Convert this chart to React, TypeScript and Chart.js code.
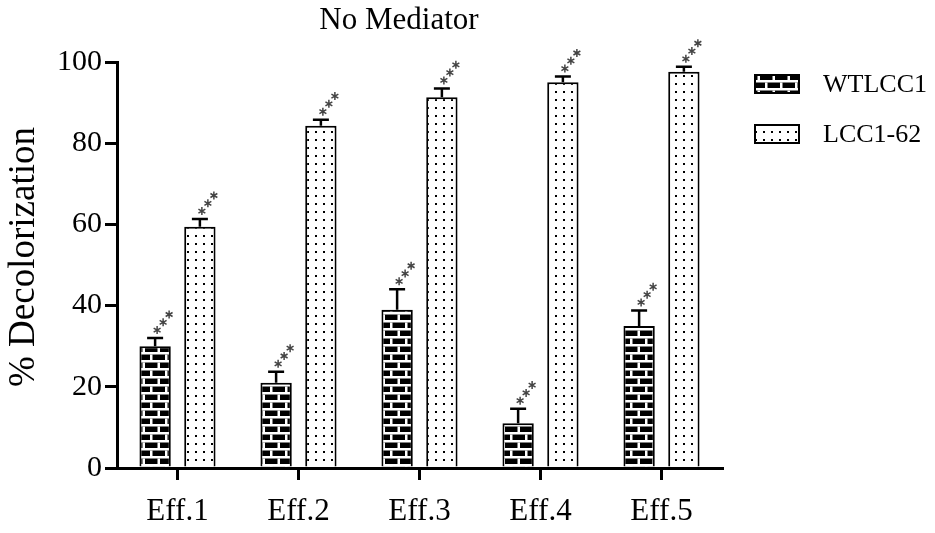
import React, { useEffect, useRef } from "react";
import { Chart, registerables } from "chart.js";

Chart.register(...registerables);

const categories = ["Eff.1", "Eff.2", "Eff.3", "Eff.4", "Eff.5"];
const wtValues = [30, 21, 39, 11, 35];
const wtErrors = [2, 2.7, 5, 3.6, 3.8];
const lccValues = [59.4, 84.3, 91.3, 95, 97.6];
const lccErrors = [1.9, 1.5, 2.2, 1.4, 1.2];
const seriesNames = ["WTLCC1", "LCC1-62"];
const yTicks = [0, 20, 40, 60, 80, 100];
const titleText = "No Mediator";
const yTitle = "% Decolorization";

const FONT = "'Liberation Serif', 'Times New Roman', serif";

function makeBrick(): CanvasPattern | string {
  const c = document.createElement("canvas");
  c.width = 15;
  c.height = 16;
  const g = c.getContext("2d");
  if (!g) return "#000";
  g.fillStyle = "#000";
  g.fillRect(0, 0, 15, 16);
  g.fillStyle = "#fff";
  g.fillRect(0, 0, 15, 2.5);
  g.fillRect(0, 8, 15, 2.5);
  g.fillRect(0, 2.5, 2.5, 5.5);
  g.fillRect(7.5, 10.5, 2.5, 5.5);
  const p = g.createPattern(c, "repeat");
  return p || "#000";
}

function makeDots(): CanvasPattern | string {
  const c = document.createElement("canvas");
  c.width = 8;
  c.height = 8;
  const g = c.getContext("2d");
  if (!g) return "#fff";
  g.fillStyle = "#fff";
  g.fillRect(0, 0, 8, 8);
  g.fillStyle = "#000";
  g.fillRect(3, 3, 2, 2);
  const p = g.createPattern(c, "repeat");
  return p || "#fff";
}

function drawAsterisk(ctx: CanvasRenderingContext2D, cx: number, cy: number) {
  const r = 4;
  ctx.save();
  ctx.strokeStyle = "#444";
  ctx.lineWidth = 1.5;
  ctx.beginPath();
  for (let k = 0; k < 3; k++) {
    const a = (Math.PI / 3) * k + Math.PI / 2;
    ctx.moveTo(cx - r * Math.cos(a), cy - r * Math.sin(a));
    ctx.lineTo(cx + r * Math.cos(a), cy + r * Math.sin(a));
  }
  ctx.stroke();
  ctx.restore();
}

export default function App() {
  const ref = useRef<HTMLCanvasElement | null>(null);

  useEffect(() => {
    if (!ref.current) return;
    const brick = makeBrick();
    const dots = makeDots();
    const errors = [wtErrors, lccErrors];
    const fills = [brick, dots];

    const overlay = {
      id: "overlay",
      afterDatasetsDraw(chart: any) {
        const ctx = chart.ctx as CanvasRenderingContext2D;
        const y = chart.scales.y;
        chart.data.datasets.forEach((ds: any, di: number) => {
          const meta = chart.getDatasetMeta(di);
          meta.data.forEach((bar: any, i: number) => {
            const v = ds.data[i] as number;
            const top = y.getPixelForValue(v + errors[di][i]);
            const x = bar.x;
            ctx.save();
            ctx.strokeStyle = "#000";
            ctx.lineWidth = 2.5;
            ctx.beginPath();
            ctx.moveTo(x, bar.y);
            ctx.lineTo(x, top);
            ctx.moveTo(x - 8, top);
            ctx.lineTo(x + 8, top);
            ctx.stroke();
            ctx.restore();
            for (let k = 0; k < 3; k++) {
              drawAsterisk(ctx, x + 2 + 6 * k, top - 8 - 7.8 * k);
            }
          });
        });
      },
      afterDraw(chart: any) {
        const ctx = chart.ctx as CanvasRenderingContext2D;
        const area = chart.chartArea;
        ctx.save();
        ctx.fillStyle = "#000";
        ctx.font = `31px ${FONT}`;
        ctx.textAlign = "center";
        ctx.textBaseline = "middle";
        ctx.fillText(titleText, 399, 21);
        // y-axis title
        ctx.save();
        ctx.translate(24, 257);
        ctx.rotate(-Math.PI / 2);
        ctx.font = `37px ${FONT}`;
        ctx.textAlign = "center";
        ctx.textBaseline = "middle";
        ctx.fillText(yTitle, 0, 0);
        ctx.restore();
        // legend
        const lx = area.right + 33;
        seriesNames.forEach((name, i) => {
          const cy = 84 + i * 50;
          ctx.fillStyle = fills[i] as any;
          ctx.fillRect(lx, cy - 9, 44, 18);
          ctx.strokeStyle = "#000";
          ctx.lineWidth = 2;
          ctx.strokeRect(lx, cy - 9, 44, 18);
          ctx.fillStyle = "#000";
          ctx.font = `26px ${FONT}`;
          ctx.textAlign = "left";
          ctx.textBaseline = "middle";
          ctx.fillText(name, lx + 68, cy + 1);
        });
        ctx.restore();
      },
    };

    const chart = new Chart(ref.current, {
      type: "bar",
      data: {
        labels: categories,
        datasets: [
          {
            label: seriesNames[0],
            data: wtValues,
            backgroundColor: brick as any,
            borderColor: "#000",
            borderWidth: 2,
            categoryPercentage: 0.74,
            barPercentage: 0.7,
          },
          {
            label: seriesNames[1],
            data: lccValues,
            backgroundColor: dots as any,
            borderColor: "#000",
            borderWidth: 2,
            categoryPercentage: 0.74,
            barPercentage: 0.7,
          },
        ],
      },
      plugins: [overlay],
      options: {
        animation: false,
        responsive: false,
        devicePixelRatio: 1,
        layout: { padding: { top: 62, right: 213, left: 0, bottom: 0 } },
        plugins: {
          legend: { display: false },
          title: { display: false },
          tooltip: { enabled: false },
        },
        scales: {
          x: {
            type: "category",
            offset: true,
            afterFit: (s: any) => {
              s.height = 65;
            },
            grid: {
              display: true,
              drawOnChartArea: false,
              drawTicks: true,
              tickLength: 12,
              offset: false,
              lineWidth: 3,
              color: "#000",
            },
            border: { display: true, width: 3, color: "#000" },
            ticks: {
              color: "#000",
              padding: 13,
              font: { family: FONT, size: 31 },
              maxRotation: 0,
            },
          },
          y: {
            min: 0,
            max: 100,
            afterFit: (s: any) => {
              s.width = 117;
            },
            afterBuildTicks: (s: any) => {
              s.ticks = yTicks.map((v) => ({ value: v }));
            },
            grid: {
              display: true,
              drawOnChartArea: false,
              drawTicks: true,
              tickLength: 12,
              lineWidth: 3,
              color: "#000",
            },
            border: { display: true, width: 3, color: "#000" },
            ticks: {
              color: "#000",
              padding: 3,
              font: { family: FONT, size: 30 },
            },
          },
        },
      },
    });
    return () => chart.destroy();
  }, []);

  return (
    <div style={{ position: "fixed", left: 0, top: 0, width: 935, height: 533, background: "#fff" }}>
      <canvas ref={ref} width={935} height={533} style={{ width: 935, height: 533, display: "block" }} />
    </div>
  );
}
